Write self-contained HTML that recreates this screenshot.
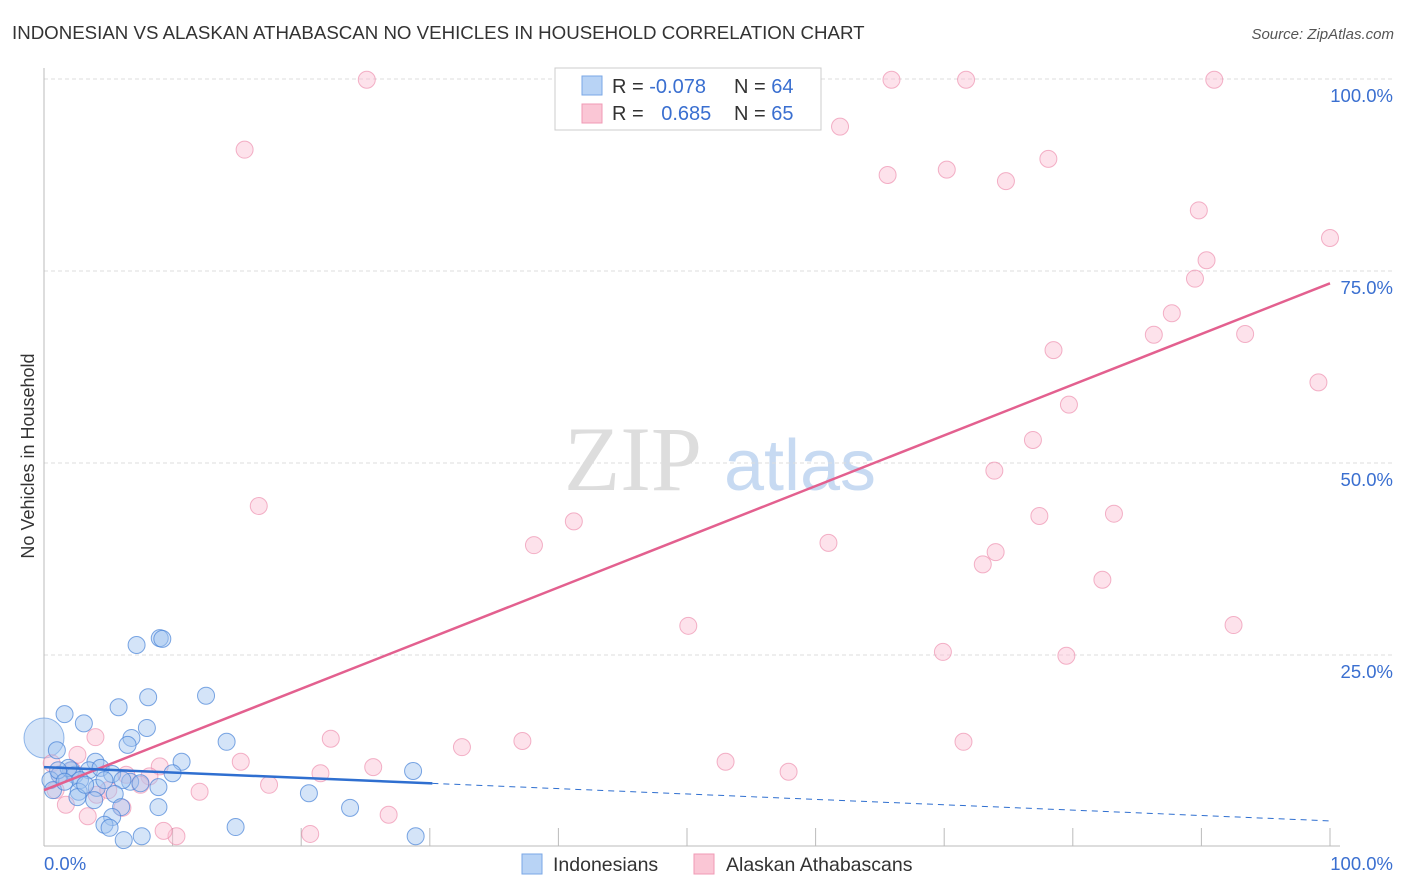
<!DOCTYPE html>
<html><head><meta charset="utf-8"><style>
body{margin:0;background:#fff;font-family:"Liberation Sans",sans-serif;}
svg{display:block}
</style></head><body>
<svg width="1406" height="892" xmlns="http://www.w3.org/2000/svg">
<text x="12" y="39" font-size="18.7" fill="#333">INDONESIAN VS ALASKAN ATHABASCAN NO VEHICLES IN HOUSEHOLD CORRELATION CHART</text>
<text x="1394" y="39" font-size="15" fill="#555" font-style="italic" text-anchor="end">Source: ZipAtlas.com</text>
<g>
<text x="633" y="490" font-size="92" fill="#ddd" font-family="Liberation Serif,serif" text-anchor="middle">ZIP</text>
<text x="800" y="490" font-size="72" fill="#c7daf2" text-anchor="middle">atlas</text>
</g>
<g id="grid"></g>
<g id="axes"></g>
<g id="marks"></g>
<g id="trend"></g>
<text transform="translate(34,456) rotate(-90)" font-size="18" fill="#333" text-anchor="middle">No Vehicles in Household</text>
<g>
<rect x="555" y="68" width="266" height="62" fill="#fff" stroke="#ccc"/>
<rect x="582" y="76" width="20" height="19" fill="#b8d3f5" stroke="#7aa7e6"/>
<rect x="582" y="104" width="20" height="19" fill="#fac6d5" stroke="#f09ab5"/>
<text x="612" y="93" font-size="20" fill="#333">R = <tspan fill="#3a6fd0">-0.078</tspan></text>
<text x="734" y="93" font-size="20" fill="#333">N = <tspan fill="#3a6fd0">64</tspan></text>
<text x="612" y="120" font-size="20" fill="#333">R = <tspan fill="#3a6fd0" dx="12">0.685</tspan></text>
<text x="734" y="120" font-size="20" fill="#333">N = <tspan fill="#3a6fd0">65</tspan></text>
</g>
<g>
<rect x="522" y="854" width="20" height="20" fill="#b8d3f5" stroke="#7aa7e6"/>
<text x="553" y="871" font-size="19.5" fill="#333">Indonesians</text>
<rect x="694" y="854" width="20" height="20" fill="#fac6d5" stroke="#f09ab5"/>
<text x="726" y="871" font-size="19.5" fill="#333">Alaskan Athabascans</text>
</g>
</svg>
<script>
const yTicks=[25,50,75,100];
const yTickLabels=["25.0%","50.0%","75.0%","100.0%"];
const xTicks=[10,20,30,40,50,60,70,80,90,100];
const blueX=[9.0,9.2,7.2,12.6,8.1,5.8,1.6,3.1,8.0,6.8,6.5,14.2,1.0,10.7,28.7,4.0,2.1,3.5,4.4,5.3,1.2,2.4,10.0,0.5,2.8,6.7,7.5,8.9,6.1,0.7,2.7,4.1,20.6,2.6,5.5,8.9,23.8,6.0,3.9,5.3,4.7,5.1,14.9,7.6,6.2,28.9,1.9,1.1,3.2,4.7,1.6];
const blueY=[27.2,27.1,26.3,19.7,19.5,18.2,17.3,16.1,15.5,14.2,13.3,13.7,12.6,11.1,9.9,11.1,10.0,10.0,10.3,9.5,9.4,9.4,9.6,8.7,8.7,8.5,8.3,7.8,8.7,7.4,7.2,7.7,7.0,6.5,6.9,5.2,5.1,5.2,6.1,3.9,2.9,2.5,2.6,1.4,0.9,1.4,10.3,10.0,8.1,8.7,8.5];
const pinkX=[25.1,15.6,16.7,65.9,71.7,91.0,61.9,65.6,70.2,74.8,78.1,89.8,100,90.4,89.5,87.7,86.3,93.4,78.5,79.7,99.1,76.9,73.9,77.4,83.2,41.2,38.1,61.0,74.0,73.0,82.3,50.1,92.5,69.9,79.5,71.5,37.2,32.5,22.3,53.0,57.9,25.6,21.5,15.3,17.5,12.1,26.8,20.7,10.3,9.3,4.0,9.0,6.4,2.6,1.7,3.4,6.1,4.1,0.9,0.6,8.2,1.2,2.2,5.0,7.5];
const pinkY=[99.9,90.8,44.4,99.9,99.9,99.9,93.8,87.5,88.2,86.7,89.6,82.9,79.3,76.4,74.0,69.5,66.7,66.8,64.7,57.6,60.5,53.0,49.0,43.1,43.4,42.4,39.3,39.6,38.4,36.8,34.8,28.8,28.9,25.4,24.9,13.7,13.8,13.0,14.1,11.1,9.8,10.4,9.6,11.1,8.1,7.2,4.2,1.7,1.4,2.1,14.3,10.5,9.4,12.0,5.5,4.0,5.1,6.8,7.4,10.9,9.2,9.4,10.0,7.4,8.1];
const pinkTrend=[7.4,73.4];
const blueTrend=[10.4,3.4];
const blueSolidEnd=30.2;
const NS="http://www.w3.org/2000/svg";
const sx=v=>44+v*12.86, sy=v=>847-v*7.68;
function mk(p,t,a){const e=document.createElementNS(NS,t);for(const k in a)e.setAttribute(k,a[k]);p.appendChild(e);return e;}
const grid=document.getElementById('grid'),axes=document.getElementById('axes'),marks=document.getElementById('marks'),trend=document.getElementById('trend');
yTicks.forEach((t,i)=>{
 const l=mk(grid,'line',{x1:44,x2:1395,y1:sy(t),y2:sy(t),stroke:'#ddd','stroke-dasharray':'4,3'});
 
 
 const tx=mk(grid,'text',{x:1393,y:sy(t)+23,'font-size':18.5,fill:'#3a6fd0','text-anchor':'end'});tx.textContent=yTickLabels[i];
 
 
});
const ya=mk(axes,'line',{x1:44,x2:44,y1:68,y2:846,stroke:'#bbb'});


const xa=mk(axes,'line',{x1:44,x2:1340,y1:846,y2:846,stroke:'#bbb'});


xTicks.forEach(t=>{const l=mk(axes,'line',{x1:sx(t),x2:sx(t),y1:828,y2:846,stroke:'#bbb'});
 
 });
const x0=mk(axes,'text',{x:44,y:870,'font-size':18.5,fill:'#3a6fd0'});x0.textContent='0.0%';


const x1=mk(axes,'text',{x:1393,y:870,'font-size':18.5,fill:'#3a6fd0','text-anchor':'end'});x1.textContent='100.0%';


const big=mk(marks,'circle',{cx:sx(0),cy:sy(14.2),r:20,fill:'rgba(160,195,240,0.45)',stroke:'rgba(80,140,220,0.6)'});


pinkX.forEach((v,i)=>{const c=mk(marks,'circle',{cx:sx(v),cy:sy(pinkY[i]),r:8.5,fill:'rgba(250,190,210,0.45)',stroke:'rgba(235,130,165,0.6)'});
 
 });
blueX.forEach((v,i)=>{const c=mk(marks,'circle',{cx:sx(v),cy:sy(blueY[i]),r:8.5,fill:'rgba(160,195,240,0.45)',stroke:'rgba(70,130,215,0.7)'});
 
 });
const pt=mk(trend,'line',{x1:sx(0),y1:sy(pinkTrend[0]),x2:sx(100),y2:sy(pinkTrend[1]),stroke:'#e3608f','stroke-width':2.5});


const by=v=>blueTrend[0]+(blueTrend[1]-blueTrend[0])*v/100;
const bt=mk(trend,'line',{x1:sx(0),y1:sy(by(0)),x2:sx(blueSolidEnd),y2:sy(by(blueSolidEnd)),stroke:'#2f6fd0','stroke-width':2.5});


const bd=mk(trend,'line',{x1:sx(blueSolidEnd),y1:sy(by(blueSolidEnd)),x2:sx(100),y2:sy(by(100)),stroke:'#2f6fd0','stroke-width':1,'stroke-dasharray':'6,5'});


</script>
</body></html>
